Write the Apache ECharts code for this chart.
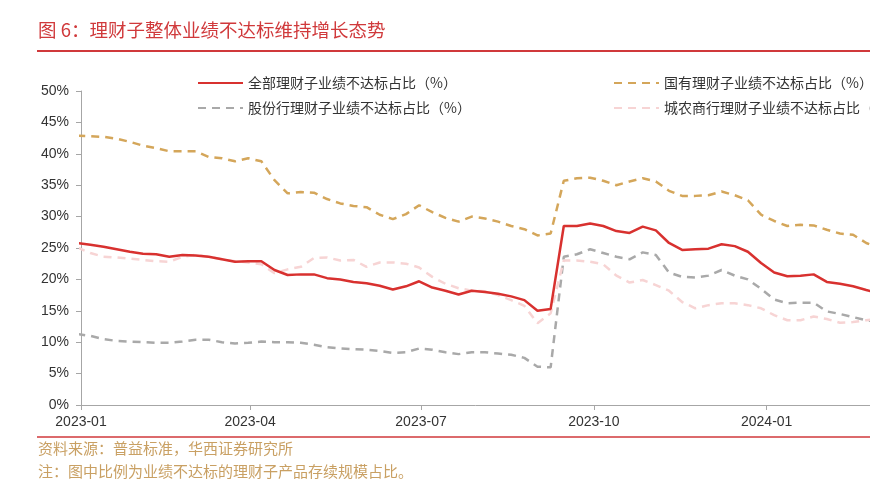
<!DOCTYPE html>
<html>
<head>
<meta charset="utf-8">
<script src="https://cdn.jsdelivr.net/npm/echarts@6/dist/echarts.min.js"></script>
<style>
  html, body { margin: 0; padding: 0; background: #fff; }
  #chart { width: 870px; height: 492px; }
</style>
</head>
<body>
<div id="chart"></div>
<script>
// weekly observations (Fridays)
var dates = ['2022-12-30','2023-01-06','2023-01-13','2023-01-20','2023-01-27','2023-02-03','2023-02-10','2023-02-17','2023-02-24','2023-03-03',
  '2023-03-10','2023-03-17','2023-03-24','2023-03-31','2023-04-07','2023-04-14','2023-04-21','2023-04-28','2023-05-05','2023-05-12',
  '2023-05-19','2023-05-26','2023-06-02','2023-06-09','2023-06-16','2023-06-23','2023-06-30','2023-07-07','2023-07-14','2023-07-21',
  '2023-07-28','2023-08-04','2023-08-11','2023-08-18','2023-08-25','2023-09-01','2023-09-08','2023-09-15','2023-09-22','2023-09-29',
  '2023-10-06','2023-10-13','2023-10-20','2023-10-27','2023-11-03','2023-11-10','2023-11-17','2023-11-24','2023-12-01','2023-12-08',
  '2023-12-15','2023-12-22','2023-12-29','2024-01-05','2024-01-12','2024-01-19','2024-01-26','2024-02-02','2024-02-09','2024-02-16',
  '2024-02-23','2024-03-01']

var allBanks = [25.8,25.5,25.2,24.8,24.4,24.1,24.0,23.6,23.9,23.8,
  23.6,23.2,22.8,22.9,22.9,21.5,20.7,20.8,20.8,20.2,
  20.0,19.6,19.4,19.0,18.4,18.9,19.7,18.7,18.2,17.6,
  18.2,18.0,17.7,17.3,16.7,15.0,15.3,28.5,28.5,28.9,
  28.5,27.7,27.4,28.4,27.8,25.8,24.7,24.8,24.9,25.6,
  25.3,24.4,22.6,21.1,20.5,20.6,20.8,19.6,19.3,18.9,
  18.3,17.8]

var stateOwned = [42.9,42.8,42.7,42.4,41.9,41.3,40.9,40.4,40.4,40.4,
  39.5,39.3,38.8,39.3,38.8,35.8,33.7,33.9,33.8,32.8,
  32.1,31.7,31.5,30.3,29.6,30.4,31.8,30.7,29.8,29.2,
  30.0,29.7,29.2,28.5,28.0,27.0,27.3,35.7,36.1,36.2,
  35.7,35.0,35.6,36.1,35.6,34.1,33.3,33.3,33.4,34.0,
  33.4,32.6,30.3,29.3,28.5,28.7,28.6,27.9,27.3,27.1,
  25.8,25.0]

var jointStock = [11.3,11.0,10.5,10.2,10.1,10.0,9.9,9.9,10.1,10.4,
  10.4,10.0,9.8,9.9,10.1,10.0,10.0,9.9,9.6,9.2,
  9.0,8.9,8.8,8.6,8.3,8.4,9.0,8.8,8.4,8.1,
  8.4,8.4,8.2,8.0,7.5,6.1,6.0,23.6,24.0,24.8,
  24.2,23.6,23.2,24.3,23.9,21.1,20.4,20.3,20.6,21.5,
  20.6,20.0,18.5,16.8,16.2,16.3,16.3,14.9,14.5,14.0,
  13.5,13.2]

var cityRural = [25.1,24.2,23.6,23.5,23.3,23.1,22.9,22.8,23.6,23.9,
  23.6,23.2,22.9,22.7,22.4,21.0,21.6,22.0,23.4,23.5,
  23.0,23.1,22.0,22.7,22.7,22.5,21.9,20.4,19.3,18.6,
  18.2,18.1,17.5,16.7,15.8,13.0,14.6,23.0,23.0,22.8,
  22.4,20.6,19.5,19.9,19.1,18.2,16.4,15.4,15.9,16.2,
  16.2,15.9,15.4,14.3,13.5,13.5,14.1,13.7,13.1,13.2,
  13.5,13.8]

var names = ['全部理财子业绩不达标占比（%）', '国有理财子业绩不达标占比（%）', '股份行理财子业绩不达标占比（%）', '城农商行理财子业绩不达标占比（%）']
var tickDates = ['2023-01-01', '2023-04-01', '2023-07-01', '2023-10-01', '2024-01-01']
var axisEnd = '2024-02-25'

var red = '#D8312F'
var gold = '#D4A65A'
var grey = '#A9A9A9'
var pink = '#F7D4D4'
var fontEn = 'Liberation Sans, Arial, sans-serif'
var fontCn = 'Noto Sans CJK SC, sans-serif'

function ts(d) { return Date.UTC(+d.slice(0, 4), +d.slice(5, 7) - 1, +d.slice(8, 10)) }
function pairs(vals) {
  return dates.map(function (d, i) { return [ts(d), vals[i]] })
}
var ticks = tickDates.map(ts)

var legendBase = {
  top: 71, orient: 'vertical', itemGap: 11, itemWidth: 45, itemHeight: 14,
  itemStyle: { opacity: 0 },
  textStyle: { fontFamily: fontCn, fontSize: 14, color: '#333' }
}

var chart = echarts.init(document.getElementById('chart'))
var option = {
  animation: false,
  grid: { left: 81, right: 0, top: 91, bottom: 87, containLabel: false },
  legend: [
    Object.assign({ left: 192, data: [names[0], names[2]] }, legendBase),
    Object.assign({ left: 608, data: [names[1], names[3]] }, legendBase)
  ],
  xAxis: {
    type: 'value',
    min: ticks[0],
    max: ts(axisEnd),
    axisLine: { lineStyle: { color: '#A6A6A6', width: 1 } },
    axisTick: { show: true, length: 5, customValues: ticks, lineStyle: { color: '#A6A6A6' } },
    axisLabel: {
      customValues: ticks, margin: 10, color: '#333', fontFamily: fontEn, fontSize: 14,
      formatter: function (v) {
        var d = new Date(v)
        var m = d.getUTCMonth() + 1
        return d.getUTCFullYear() + '-' + (m < 10 ? '0' + m : m)
      }
    },
    splitLine: { show: false }
  },
  yAxis: {
    type: 'value', min: 0, max: 50, interval: 5,
    axisLine: { show: true, lineStyle: { color: '#A6A6A6', width: 1 } },
    axisTick: { show: true, length: 5, lineStyle: { color: '#A6A6A6' } },
    axisLabel: { formatter: '{value}%', margin: 12, color: '#333', fontFamily: fontEn, fontSize: 14 },
    splitLine: { show: false }
  },
  series: [
    { name: names[2], type: 'line', symbol: 'none', z: 2, data: pairs(jointStock),
      lineStyle: { color: grey, width: 2.5, type: [8, 6] }, itemStyle: { color: grey } },
    { name: names[3], type: 'line', symbol: 'none', z: 2, data: pairs(cityRural),
      lineStyle: { color: pink, width: 2.5, type: [8, 6] }, itemStyle: { color: pink } },
    { name: names[1], type: 'line', symbol: 'none', z: 3, data: pairs(stateOwned),
      lineStyle: { color: gold, width: 2.5, type: [8, 6] }, itemStyle: { color: gold } },
    { name: names[0], type: 'line', symbol: 'none', z: 4, data: pairs(allBanks),
      lineStyle: { color: red, width: 2.5 }, itemStyle: { color: red } }
  ],
  graphic: [
    { type: 'text', left: 38, top: 21,
      style: { text: '图 6：理财子整体业绩不达标维持增长态势', fill: '#D0393B', fontFamily: fontCn, fontSize: 18.5 } },
    { type: 'line', shape: { x1: 37, y1: 51, x2: 870, y2: 51 }, style: { stroke: '#D0393B', lineWidth: 2 } },
    { type: 'line', shape: { x1: 37, y1: 437, x2: 870, y2: 437 }, style: { stroke: '#D0393B', lineWidth: 1.5 } },
    { type: 'text', left: 38, top: 441,
      style: { text: '资料来源：普益标准，华西证券研究所', fill: '#C9A063', fontFamily: fontCn, fontSize: 15 } },
    { type: 'text', left: 38, top: 464,
      style: { text: '注：图中比例为业绩不达标的理财子产品存续规模占比。', fill: '#C9A063', fontFamily: fontCn, fontSize: 15 } }
  ]
}
chart.setOption(option)
</script>
</body>
</html>
